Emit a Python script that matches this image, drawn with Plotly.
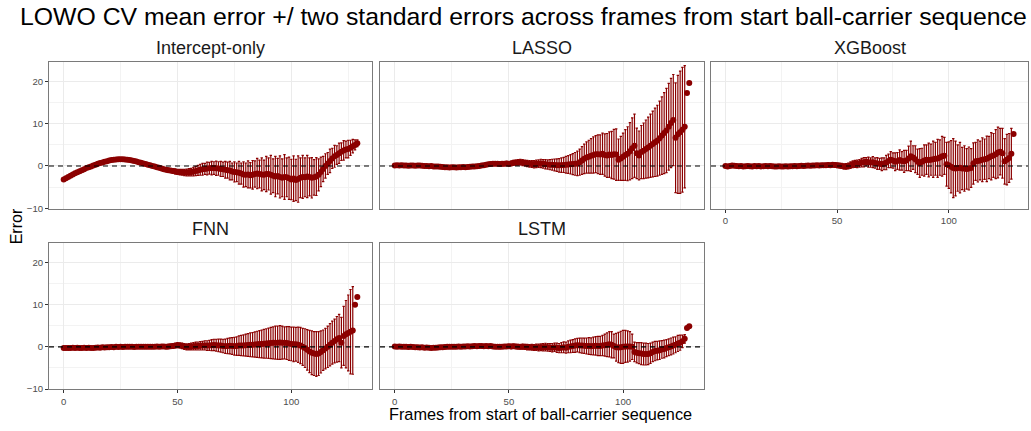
import plotly.graph_objects as go

# frames from start of ball-carrier sequence
frames = list(range(130))

# mean LOWO CV error per frame, and two standard errors (half-width of bar)
intercept_mean = [
    -3.2, -2.9, -2.6, -2.3, -2.0, -1.75, -1.5, -1.25, -1.0, -0.75,
    -0.5, -0.3, -0.1, 0.1, 0.3, 0.5, 0.7, 0.85, 1.0, 1.15,
    1.3, 1.4, 1.5, 1.55, 1.6, 1.6, 1.6, 1.55, 1.5, 1.4,
    1.3, 1.2, 1.05, 0.9, 0.75, 0.6, 0.45, 0.3, 0.15, 0.0,
    -0.15, -0.3, -0.45, -0.6, -0.75, -0.9, -1.0, -1.1, -1.2, -1.3,
    -1.4, -1.45, -1.5, -1.55, -1.55, -1.5, -1.45, -1.35, -1.2, -1.05,
    -0.9, -0.8, -0.7, -0.6, -0.55, -0.5, -0.5, -0.55, -0.6, -0.7,
    -0.8, -0.9, -1.0, -1.1, -1.3, -1.4, -1.5, -1.6, -1.8, -2.0,
    -2.1, -2.0, -2.2, -2.1, -1.9, -1.8, -1.9, -2.0, -2.1, -1.9,
    -1.9, -2.1, -2.3, -2.5, -2.4, -2.6, -2.8, -2.6, -2.7, -2.9,
    -3.2, -3.0, -3.3, -3.1, -2.8, -2.6, -2.7, -2.5, -2.6, -2.8,
    -2.7, -2.5, -2.1, -1.4, -0.7, 0.0, 0.6, 1.2, 1.8, 2.3,
    2.6, 3.0, 3.4, 3.7, 3.9, 4.0, 4.3, 4.7, 5.0, 5.4,
]
intercept_se2 = [
    0.25, 0.25, 0.25, 0.25, 0.25, 0.25, 0.25, 0.25, 0.25, 0.25,
    0.25, 0.25, 0.25, 0.25, 0.25, 0.25, 0.25, 0.25, 0.25, 0.25,
    0.25, 0.25, 0.25, 0.25, 0.25, 0.25, 0.25, 0.25, 0.25, 0.25,
    0.3, 0.3, 0.3, 0.3, 0.3, 0.3, 0.3, 0.3, 0.3, 0.3,
    0.35, 0.35, 0.4, 0.4, 0.45, 0.45, 0.5, 0.5, 0.55, 0.6,
    0.6, 0.65, 0.7, 0.75, 0.8, 0.85, 0.9, 1.0, 1.1, 1.2,
    1.3, 1.4, 1.3, 1.5, 1.4, 1.6, 1.5, 1.7, 1.6, 1.8,
    1.7, 2.0, 1.9, 2.2, 2.0, 2.4, 2.2, 2.7, 2.5, 3.0,
    2.8, 3.2, 3.0, 3.4, 3.1, 3.6, 3.3, 3.9, 3.5, 4.2,
    3.8, 4.6, 4.0, 4.8, 4.2, 5.0, 4.5, 5.3, 4.6, 5.0,
    4.8, 5.4, 4.9, 5.5, 4.7, 5.1, 4.6, 5.0, 4.5, 4.8,
    4.2, 4.5, 3.8, 3.5, 3.0, 2.9, 2.6, 2.8, 2.4, 2.6,
    2.2, 2.4, 2.1, 2.3, 2.0, 2.1, 1.8, 1.6, 1.2, 0.8,
]

lasso_mean = [
    0.1, 0.15, 0.1, 0.15, 0.1, 0.1, 0.05, 0.1, 0.1, 0.05,
    0.1, 0.1, 0.05, 0.0, 0.0, -0.05, 0.0, -0.1, -0.1, -0.15,
    -0.2, -0.25, -0.3, -0.3, -0.35, -0.3, -0.3, -0.35, -0.3, -0.3,
    -0.25, -0.3, -0.25, -0.2, -0.15, -0.1, -0.05, 0.0, 0.1, 0.2,
    0.3, 0.4, 0.45, 0.5, 0.55, 0.5, 0.45, 0.5, 0.55, 0.6,
    0.5, 0.6, 0.75, 0.8, 0.85, 0.9, 0.8, 0.7, 0.6, 0.5,
    0.45, 0.4, 0.5, 0.55, 0.6, 0.5, 0.4, 0.35, 0.3, 0.3,
    0.25, 0.2, 0.15, 0.2, 0.25, 0.3, 0.35, 0.4, 0.45, 0.5,
    0.6, 0.9, 1.3, 1.7, 2.0, 2.2, 2.4, 2.6, 2.8, 2.8,
    2.7, 2.9, 2.6, 2.5, 2.7, 2.6, 2.8, 2.7, 1.5, 1.8,
    2.2, 2.6, 2.9, 3.5, 4.2, 4.8, 3.0, 2.5, 3.3, 3.6,
    4.0, 4.4, 4.8, 5.2, 5.6, 6.0, 6.6, 7.2, 7.8, 8.4,
    9.3, 10.2, 10.9, 6.7, 7.5, 8.0, 8.6, 9.3, 17.3, 19.7,
]
lasso_se2 = [
    0.3, 0.3, 0.3, 0.3, 0.3, 0.3, 0.3, 0.3, 0.3, 0.3,
    0.3, 0.3, 0.3, 0.3, 0.3, 0.3, 0.3, 0.3, 0.3, 0.3,
    0.3, 0.3, 0.3, 0.3, 0.3, 0.3, 0.3, 0.3, 0.3, 0.3,
    0.3, 0.3, 0.3, 0.3, 0.3, 0.3, 0.3, 0.3, 0.3, 0.3,
    0.35, 0.35, 0.4, 0.4, 0.4, 0.45, 0.45, 0.5, 0.5, 0.5,
    0.55, 0.55, 0.6, 0.6, 0.65, 0.65, 0.7, 0.7, 0.75, 0.8,
    0.8, 0.85, 0.9, 0.9, 1.0, 1.0, 1.1, 1.1, 1.2, 1.3,
    1.4, 1.5, 1.6, 1.7, 1.8, 2.0, 2.1, 2.3, 2.5, 2.7,
    2.9, 3.1, 3.3, 3.5, 3.7, 3.9, 4.1, 4.3, 4.4, 4.6,
    4.7, 4.9, 5.0, 5.2, 5.4, 5.6, 5.9, 6.1, 4.9, 5.2,
    5.6, 6.0, 6.4, 6.8, 7.2, 7.5, 6.0, 5.8, 6.3, 6.6,
    6.9, 7.2, 7.5, 7.8, 8.1, 8.4, 8.8, 9.2, 9.6, 10.0,
    10.3, 10.6, 10.8, 13.0, 14.0, 14.5, 14.8, 14.5, 0.0, 0.0,
]

xgb_mean = [
    0.0, -0.1, 0.0, 0.1, 0.05, 0.0, -0.05, 0.0, -0.1, -0.05,
    0.0, -0.05, -0.1, 0.0, -0.05, 0.0, -0.1, -0.05, 0.0, -0.05,
    0.0, -0.05, -0.1, -0.1, -0.05, -0.1, -0.1, -0.05, -0.1, -0.05,
    -0.05, 0.0, -0.05, 0.0, 0.05, 0.0, 0.05, 0.1, 0.05, 0.1,
    0.1, 0.15, 0.1, 0.2, 0.15, 0.2, 0.25, 0.2, 0.3, 0.25,
    0.15, 0.1, 0.0, -0.1, -0.1, 0.0, 0.2, 0.4, 0.5, 0.5,
    0.6, 0.8, 0.9, 1.0, 0.9, 0.8, 0.9, 0.7, 0.6, 0.5,
    0.4, 0.5, 0.8, 1.2, 1.5, 1.3, 1.0, 1.2, 1.4, 1.2,
    1.1, 1.3, 1.8, 2.3, 2.0, 1.6, 1.0, 0.7, 1.0, 1.3,
    1.5, 1.4, 1.5, 1.6, 1.7, 1.8, 2.0, 2.3, 2.4, 0.4,
    0.2, -0.2, -0.5, -0.6, -0.5, -0.4, -0.6, -0.6, -0.7, -0.6,
    -0.5, 0.6, 1.1, 1.2, 1.3, 1.5, 1.6, 1.7, 2.0, 2.3,
    2.5, 2.8, 3.2, 3.4, 3.0, 1.1, 1.5, 1.9, 2.9, 7.6,
]
xgb_se2 = [
    0.25, 0.25, 0.25, 0.25, 0.25, 0.25, 0.25, 0.25, 0.25, 0.25,
    0.25, 0.25, 0.25, 0.25, 0.25, 0.25, 0.25, 0.25, 0.25, 0.25,
    0.25, 0.25, 0.25, 0.25, 0.25, 0.25, 0.25, 0.25, 0.25, 0.25,
    0.25, 0.25, 0.25, 0.25, 0.25, 0.3, 0.3, 0.3, 0.3, 0.3,
    0.3, 0.3, 0.35, 0.35, 0.4, 0.4, 0.45, 0.45, 0.5, 0.5,
    0.55, 0.55, 0.6, 0.6, 0.65, 0.7, 0.75, 0.8, 0.85, 0.9,
    0.9, 1.0, 1.1, 1.0, 1.2, 1.1, 1.3, 1.2, 1.4, 1.3,
    1.5, 1.4, 1.7, 1.6, 1.9, 1.8, 2.1, 2.0, 2.4, 2.2,
    2.6, 2.4, 2.9, 3.6, 2.8, 3.2, 3.0, 3.4, 3.2, 3.7,
    3.5, 4.0, 3.7, 4.3, 3.9, 4.5, 4.2, 4.7, 4.4, 5.2,
    5.5, 6.2, 7.0, 6.5, 5.5, 6.0, 5.0, 5.4, 4.8, 5.1,
    4.6, 4.9, 4.5, 5.0, 4.6, 5.2, 4.8, 5.4, 5.0, 5.6,
    5.2, 5.8, 6.0, 5.5, 5.9, 5.4, 6.0, 5.8, 6.0, 0.0,
]

fnn_mean = [
    -0.3, -0.3, -0.25, -0.3, -0.2, -0.25, -0.2, -0.25, -0.3, -0.2,
    -0.25, -0.2, -0.3, -0.25, -0.2, -0.15, -0.2, -0.1, -0.15, -0.1,
    -0.1, -0.05, -0.1, 0.0, -0.05, 0.0, -0.05, 0.0, 0.05, 0.0,
    0.0, -0.05, 0.0, 0.05, 0.0, 0.05, 0.0, 0.05, 0.0, 0.05,
    0.05, 0.1, 0.05, 0.1, 0.1, 0.05, 0.1, 0.15, 0.2, 0.3,
    0.4, 0.35, 0.25, 0.1, 0.0, 0.05, 0.1, 0.15, 0.2, 0.2,
    0.25, 0.3, 0.35, 0.3, 0.35, 0.4, 0.45, 0.4, 0.35, 0.3,
    0.2, 0.15, 0.2, 0.25, 0.2, 0.15, 0.2, 0.3, 0.3, 0.35,
    0.4, 0.45, 0.5, 0.5, 0.55, 0.6, 0.65, 0.7, 0.75, 0.8,
    0.85, 0.9, 0.95, 1.0, 1.0, 1.05, 1.0, 0.95, 0.9, 0.8,
    0.7, 0.6, 0.6, 0.5, 0.3, 0.0, -0.3, -0.7, -1.1, -1.4,
    -1.6, -1.7, -1.6, -1.2, -0.8, -0.4, 0.0, 0.5, 1.0, 1.4,
    1.8, 2.1, 1.0, 2.6, 3.0, 3.3, 3.6, 3.9, 10.0, 11.8,
]
fnn_se2 = [
    0.3, 0.3, 0.3, 0.3, 0.3, 0.3, 0.3, 0.3, 0.3, 0.3,
    0.3, 0.3, 0.3, 0.3, 0.3, 0.3, 0.3, 0.3, 0.3, 0.3,
    0.3, 0.3, 0.3, 0.3, 0.3, 0.3, 0.3, 0.3, 0.3, 0.3,
    0.3, 0.3, 0.3, 0.3, 0.3, 0.3, 0.3, 0.3, 0.3, 0.3,
    0.35, 0.35, 0.4, 0.4, 0.45, 0.45, 0.5, 0.5, 0.55, 0.55,
    0.6, 0.6, 0.65, 0.7, 0.7, 0.75, 0.8, 0.85, 0.9, 0.95,
    1.0, 1.0, 1.1, 1.15, 1.2, 1.3, 1.35, 1.4, 1.5, 1.55,
    1.6, 1.7, 1.8, 1.9, 2.0, 2.1, 2.2, 2.3, 2.4, 2.5,
    2.6, 2.7, 2.8, 2.9, 3.0, 3.1, 3.2, 3.3, 3.4, 3.5,
    3.6, 3.7, 3.8, 3.9, 3.95, 4.0, 3.9, 3.8, 3.9, 4.0,
    4.0, 4.1, 4.0, 4.2, 4.3, 4.4, 4.6, 4.8, 5.0, 5.2,
    5.2, 5.3, 5.2, 5.0, 4.8, 4.8, 4.9, 5.0, 5.1, 5.2,
    5.4, 5.6, 6.0, 7.0, 8.0, 9.0, 10.0, 10.4, 0.0, 0.0,
]

lstm_mean = [
    0.1, 0.05, 0.1, 0.0, 0.05, 0.0, -0.05, 0.0, -0.05, -0.1,
    -0.1, -0.15, -0.1, -0.2, -0.15, -0.2, -0.25, -0.2, -0.2, -0.15,
    -0.1, -0.1, -0.05, 0.0, 0.0, 0.05, 0.0, 0.05, 0.1, 0.05,
    0.1, 0.1, 0.15, 0.1, 0.15, 0.2, 0.15, 0.2, 0.2, 0.15,
    0.2, 0.15, 0.2, 0.1, 0.05, 0.0, 0.0, 0.05, 0.1, 0.1,
    0.15, 0.1, 0.15, 0.1, 0.05, 0.0, 0.05, 0.0, -0.05, -0.1,
    -0.1, -0.15, -0.1, -0.15, -0.1, -0.1, -0.05, -0.1, -0.15, -0.2,
    -0.1, -0.2, -0.3, -0.2, -0.1, -0.2, 0.0, 0.1, 0.2, 0.3,
    0.4, 0.35, 0.3, 0.25, 0.2, 0.2, 0.15, 0.2, 0.25, 0.2,
    0.2, 0.3, 0.4, 0.5, 0.6, 0.5, 0.2, -0.1, -0.15, -0.1,
    0.0, 0.1, 0.1, 0.1, 0.0, -1.2, -1.4, -1.5, -1.6, -1.7,
    -1.7, -1.7, -1.5, -1.2, -1.0, -0.9, -0.8, -0.6, -0.5, -0.3,
    -0.1, 0.1, 0.3, 0.5, 0.8, 1.0, 1.3, 1.9, 4.5, 4.9,
]
lstm_se2 = [
    0.3, 0.3, 0.3, 0.3, 0.3, 0.3, 0.3, 0.3, 0.3, 0.3,
    0.3, 0.3, 0.3, 0.3, 0.3, 0.3, 0.3, 0.3, 0.3, 0.3,
    0.3, 0.3, 0.3, 0.3, 0.3, 0.3, 0.3, 0.3, 0.3, 0.3,
    0.3, 0.3, 0.3, 0.3, 0.3, 0.3, 0.3, 0.3, 0.3, 0.3,
    0.3, 0.3, 0.3, 0.35, 0.35, 0.35, 0.4, 0.4, 0.4, 0.45,
    0.45, 0.5, 0.5, 0.5, 0.55, 0.55, 0.6, 0.6, 0.65, 0.65,
    0.7, 0.7, 0.75, 0.8, 0.8, 0.85, 0.9, 0.9, 0.95, 1.0,
    1.0, 1.1, 1.1, 1.2, 1.3, 1.3, 1.4, 1.5, 1.5, 1.6,
    1.6, 1.7, 1.8, 1.8, 1.9, 2.0, 2.0, 2.1, 2.2, 2.3,
    2.3, 2.4, 2.6, 2.8, 3.0, 3.1, 2.8, 3.3, 3.6, 3.8,
    3.9, 3.8, 3.7, 3.5, 3.0, 2.3, 2.4, 2.5, 2.6, 2.6,
    2.6, 2.5, 2.4, 2.3, 2.3, 2.2, 2.2, 2.1, 2.1, 2.0,
    2.0, 2.0, 2.0, 1.9, 1.9, 1.8, 1.5, 1.0, 0.0, 0.0,
]

models = ["Intercept-only", "LASSO", "XGBoost", "FNN", "LSTM"]
means = [intercept_mean, lasso_mean, xgb_mean, fnn_mean, lstm_mean]
errs = [intercept_se2, lasso_se2, xgb_se2, fnn_se2, lstm_se2]

W, H = 1031, 431
FONT = "Liberation Sans, Arial, Helvetica, sans-serif"
RED = "#8b0000"

# panel boxes in pixels, facet_wrap layout 3 columns
col_px = [(49, 372), (380, 704), (711, 1028)]
row_px = [(63, 211), (246, 394)]
cells = [(0, 0), (0, 1), (0, 2), (1, 0), (1, 1)]
x_labelled = [(1, 0), (1, 1), (0, 2)]

fig = go.Figure()
layout = {}
annotations = []
shapes = []

for i, (name, m, e, cell) in enumerate(zip(models, means, errs, cells)):
    n = i + 1
    r, c = cell
    x0, x1 = col_px[c]
    y0, y1 = row_px[r]
    xdom = [x0 / W, x1 / W]
    ydom = [1 - y1 / H, 1 - y0 / H]
    sfx = "" if n == 1 else str(n)

    fig.add_trace(go.Scatter(
        x=frames, y=m, mode="markers",
        marker=dict(color=RED, size=6),
        error_y=dict(type="data", array=e, visible=True, color=RED,
                     thickness=1.2, width=1.2),
        xaxis="x" + sfx, yaxis="y" + sfx, showlegend=False,
    ))

    show_x = cell in x_labelled
    show_y = c == 0
    layout["xaxis" + sfx] = dict(
        domain=xdom, anchor="y" + sfx, range=[-6.45, 135.45],
        tickvals=[0, 50, 100], showticklabels=show_x,
        ticks="outside" if show_x else "", ticklen=3, tickcolor="#333333",
        tickfont=dict(size=9.6, color="#4d4d4d", family=FONT),
        showgrid=True, gridcolor="#ebebeb", gridwidth=1, zeroline=False,
        minor=dict(tickvals=[25, 75, 125], showgrid=True,
                   gridcolor="#f3f3f3", gridwidth=0.6),
        showline=True, mirror=True, linecolor="#7a7a7a", linewidth=1,
    )
    layout["yaxis" + sfx] = dict(
        domain=ydom, anchor="x" + sfx, range=[-10.1, 24.6],
        tickvals=[-10, 0, 10, 20], showticklabels=show_y,
        ticks="outside" if show_y else "", ticklen=3, tickcolor="#333333",
        tickfont=dict(size=9.6, color="#4d4d4d", family=FONT),
        showgrid=True, gridcolor="#ebebeb", gridwidth=1, zeroline=False,
        minor=dict(tickvals=[-5, 5, 15], showgrid=True,
                   gridcolor="#f3f3f3", gridwidth=0.6),
        showline=True, mirror=True, linecolor="#7a7a7a", linewidth=1,
    )

    # dashed zero reference line, over the points
    shapes.append(dict(
        type="line", xref="x" + sfx + " domain", yref="y" + sfx,
        x0=0, x1=1, y0=0, y1=0, layer="above",
        line=dict(color="black", width=1.1, dash="5px,4px"),
    ))

    # facet strip label
    annotations.append(dict(
        text=name, x=(xdom[0] + xdom[1]) / 2, y=ydom[1],
        xref="paper", yref="paper", xanchor="center", yanchor="bottom",
        yshift=2, showarrow=False,
        font=dict(size=18, color="#1a1a1a", family=FONT),
    ))

annotations.append(dict(
    text="LOWO CV mean error +/ two standard errors across frames from start ball-carrier sequence",
    x=523 / W, y=1 - 17 / H, xref="paper", yref="paper",
    xanchor="center", yanchor="middle", showarrow=False,
    font=dict(size=24.8, color="black", family=FONT),
))
annotations.append(dict(
    text="Frames from start of ball-carrier sequence",
    x=540 / W, y=0, xref="paper", yref="paper",
    xanchor="center", yanchor="bottom", yshift=1, showarrow=False,
    font=dict(size=16.3, color="black", family=FONT),
))
annotations.append(dict(
    text="Error", x=16 / W, y=1 - 229 / H, xref="paper", yref="paper",
    xanchor="center", yanchor="middle", textangle=-90, showarrow=False,
    font=dict(size=16, color="black", family=FONT),
))

fig.update_layout(
    width=W, height=H, margin=dict(l=0, r=0, t=0, b=0),
    paper_bgcolor="white", plot_bgcolor="white",
    annotations=annotations, shapes=shapes, **layout,
)

# the page body has a default 8px margin; drop it so the figure fills the window
fig.write_html("out.html", config={"displayModeBar": False},
               post_script="document.body.style.margin = '0';")
